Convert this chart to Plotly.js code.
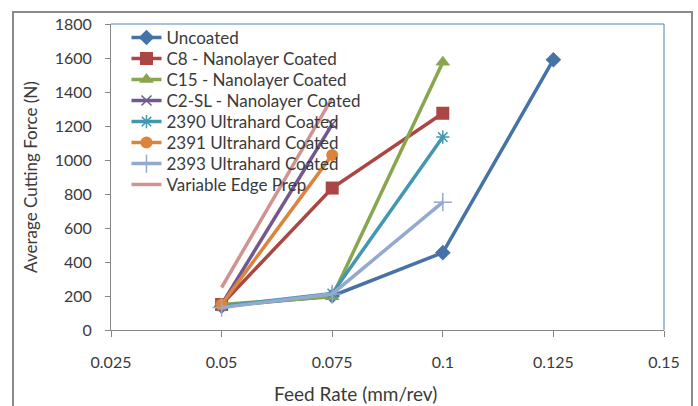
<!DOCTYPE html>
<html>
<head>
<meta charset="utf-8">
<script src="https://cdn.plot.ly/plotly-3.0.1.min.js"></script>
<style>
  html, body { margin: 0; padding: 0; background: #fff; }
  #wrap { position: relative; width: 698px; height: 406px; overflow: hidden; }
  #chart { width: 698px; height: 406px; }
  #frame { position: absolute; left: 12px; top: 11px; width: 677px; height: 420px;
           border: 2px solid #8a8a8a; pointer-events: none; }
</style>
</head>
<body>
<div id="wrap">
  <div id="chart"></div>
  <div id="frame"></div>
</div>
<script>
// Data
const seriesNames = [
  "Uncoated",
  "C8 - Nanolayer Coated",
  "C15 - Nanolayer Coated",
  "C2-SL - Nanolayer Coated",
  "2390 Ultrahard Coated",
  "2391 Ultrahard Coated",
  "2393 Ultrahard Coated",
  "Variable Edge Prep"
];
const uncoatedX = [0.05, 0.075, 0.1, 0.125];
const uncoatedY = [140, 200, 455, 1590];
const c8X = [0.05, 0.075, 0.1];
const c8Y = [150, 835, 1275];
const c15X = [0.05, 0.075, 0.1];
const c15Y = [150, 195, 1575];
const c2slX = [0.05, 0.075];
const c2slY = [150, 1210];
const u2390X = [0.05, 0.075, 0.1];
const u2390Y = [140, 215, 1135];
const u2391X = [0.05, 0.075];
const u2391Y = [150, 1030];
const u2393X = [0.05, 0.075, 0.1];
const u2393Y = [132, 212, 752];
const vepX = [0.05, 0.075];
const vepY = [250, 1365];

const xTicks = [0.025, 0.05, 0.075, 0.1, 0.125, 0.15];
const yTicks = [0, 200, 400, 600, 800, 1000, 1200, 1400, 1600, 1800];
const xTitle = "Feed Rate (mm/rev)";
const yTitle = "Average Cutting Force (N)";

const colors = ["#4572A7", "#AA4643", "#89A54E", "#71588F", "#4198AF", "#DB843D", "#93A9CF", "#D19392"];

function tr(i, x, y, marker) {
  const t = {
    type: "scatter", mode: marker ? "lines+markers" : "lines",
    name: seriesNames[i], x: x, y: y,
    line: { color: colors[i], width: 3.5 }
  };
  if (marker) t.marker = marker;
  return t;
}

const data = [
  tr(0, uncoatedX, uncoatedY, { symbol: "diamond", size: 12, color: colors[0] }),
  tr(1, c8X, c8Y, { symbol: "square", size: 13, color: colors[1] }),
  tr(2, c15X, c15Y, { symbol: "triangle-up", size: 13, color: colors[2] }),
  tr(3, c2slX, c2slY, { symbol: "x-thin-open", size: 10, color: colors[3], line: { color: colors[3], width: 1.5 } }),
  tr(4, u2390X, u2390Y, { symbol: "asterisk-open", size: 11, color: colors[4], line: { color: colors[4], width: 1.5 } }),
  tr(5, u2391X, u2391Y, { symbol: "circle", size: 12, color: colors[5] }),
  tr(6, u2393X, u2393Y, { symbol: "cross-thin-open", size: 13, color: colors[6], line: { color: colors[6], width: 1.5 } }),
  tr(7, vepX, vepY, null)
];

const fontFam = "Lato, 'Open Sans', sans-serif";
const txtColor = "#3a3a3a";

const layout = {
  width: 698, height: 406,
  margin: { l: 111, r: 34, t: 24, b: 76 },
  paper_bgcolor: "#ffffff", plot_bgcolor: "#ffffff",
  font: { family: fontFam, size: 16, color: txtColor },
  showlegend: true,
  legend: {
    x: 0.028, y: 1.0, xanchor: "left", yanchor: "top",
    bgcolor: "rgba(0,0,0,0)", borderwidth: 0,
    font: { family: fontFam, size: 17, color: txtColor },
    tracegroupgap: 0
  },
  xaxis: {
    range: [0.025, 0.15], tickvals: xTicks, ticktext: xTicks.map(String),
    showgrid: false, zeroline: false,
    showline: true, linecolor: "#868686", linewidth: 1,
    ticks: "outside", ticklen: 6, tickcolor: "#868686",
    ticklabelstandoff: 12,
    tickfont: { size: 16, color: txtColor }
  },
  yaxis: {
    range: [0, 1800], tickvals: yTicks,
    showgrid: false, zeroline: false,
    showline: true, linecolor: "#868686", linewidth: 1,
    ticks: "outside", ticklen: 5, tickcolor: "#868686",
    ticklabelstandoff: 10,
    tickfont: { size: 16, color: txtColor },
    title: { text: yTitle, font: { size: 17, color: txtColor }, standoff: 12 }
  },
  annotations: [
    { text: xTitle, xref: "paper", yref: "paper", x: 0.442, y: -0.207,
      xanchor: "center", yanchor: "middle", showarrow: false,
      font: { family: fontFam, size: 19, color: txtColor } }
  ],
  shapes: [
    { type: "line", xref: "paper", yref: "paper", x0: 0, x1: 1, y0: 1, y1: 1, line: { color: "#4F81BD", width: 1 } },
    { type: "line", xref: "paper", yref: "paper", x0: 1, x1: 1, y0: 0, y1: 1, line: { color: "#4F81BD", width: 1 } }
  ]
};

Plotly.newPlot("chart", data, layout, { displayModeBar: false, staticPlot: true }).then(function (gd) {
  // tighten legend row spacing to match the reference (~21px per row)
  const items = gd.querySelectorAll(".legend .traces");
  let y0 = null;
  items.forEach(function (el, i) {
    const m = /translate\(\s*([-\d.]+)[\s,]+([-\d.]+)\s*\)/.exec(el.getAttribute("transform") || "");
    if (m) {
      if (y0 === null) y0 = parseFloat(m[2]) - 4;
      el.setAttribute("transform", "translate(" + m[1] + "," + (y0 + i * 21) + ")");
    }
  });
});
</script>
</body>
</html>
